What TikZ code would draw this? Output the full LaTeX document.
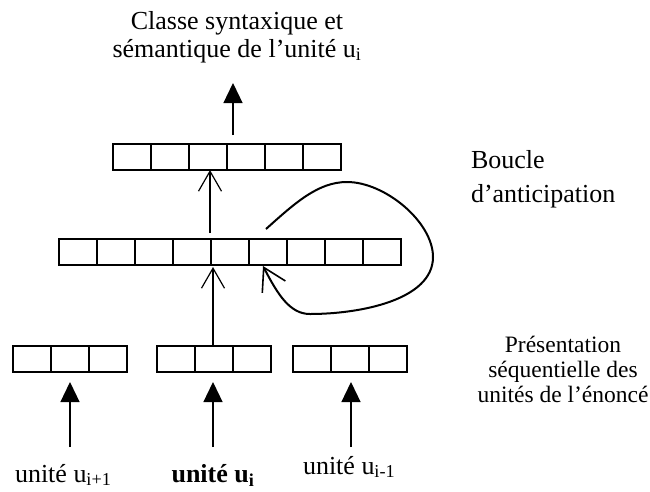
\documentclass[tikz,border=0pt]{standalone}
\usepackage{fontspec}
\setmainfont{Liberation Serif}
\usetikzlibrary{arrows.meta}
\begin{document}
\begin{tikzpicture}[x=1pt,y=-1pt,
  cell/.style={draw, line width=1.3pt, minimum width=38pt, minimum height=26pt, inner sep=0pt, outer sep=0pt},
  txt/.style={inner sep=0pt, outer sep=0pt},
  fillarrow/.style={line width=1.3pt, -{Triangle[length=20pt,width=19pt]}},
  openarrow/.style={line width=1.2pt, -{Straight Barb[length=20pt,width=23pt,line width=1.2pt]}},
  looparrow/.style={line width=2pt, -{Straight Barb[length=22pt,width=26pt,line width=1.6pt]}},
]
\useasboundingbox (0,0) rectangle (650,491);
% bars
\foreach \i in {1,...,6} \node[cell] (t\i) at (113+\i*38-19,157) {};
\foreach \i in {1,...,9} \node[cell] (m\i) at (59+\i*38-19,252) {};
\foreach \i in {1,...,3} {
  \node[cell] (a\i) at (13+\i*38-19,359) {};
  \node[cell] (b\i) at (157+\i*38-19,359) {};
  \node[cell] (c\i) at (293+\i*38-19,359) {};
}
% texts (anchor=base of a multi-line node is the baseline of its last line)
\node[txt, align=center, anchor=base, font=\fontsize{26}{28}\selectfont] (title) at (237,57)
  {Classe syntaxique et\\sémantique de l’unité u\textsubscript{i}};
\node[txt, align=left, anchor=base west, font=\fontsize{26}{34}\selectfont] (boucle) at (471,202)
  {Boucle\\d’anticipation};
\node[txt, align=center, anchor=base, font=\fontsize{23.5}{25}\selectfont] (pres) at (563,402)
  {Présentation\\séquentielle des\\unités de l’énoncé};
\node[txt, anchor=base west, font=\fontsize{26}{26}\selectfont] (l1) at (15,482) {unité u\textsubscript{i+1}};
\node[txt, anchor=base, font=\fontsize{26}{26}\selectfont] (l2) at (213,482) {\textbf{unité u\textsubscript{i}}};
\node[txt, anchor=base west, font=\fontsize{26}{26}\selectfont] (l3) at (303,474) {unité u\textsubscript{i-1}};
% arrow end points
\coordinate (topS) at (233,135);
\coordinate (topE) at (233,83);
\coordinate (tmS) at (210,233);
\coordinate (tmE) at (210,170);
\coordinate (mbS) at (213,346);
\coordinate (mbE) at (213,267);
\coordinate (a0) at (70,447);
\coordinate (aE) at (70,382);
\coordinate (b0) at (213,447);
\coordinate (bE) at (213,382);
\coordinate (c0) at (351,447);
\coordinate (cE) at (351,382);
\coordinate (L0) at (266,229);
\coordinate (L1) at (347,182);
\coordinate (L2) at (433,257);
\coordinate (L3) at (310,314);
\coordinate (LE) at (263,266);
% arrows
\draw[fillarrow] (topS) -- (topE);
\draw[openarrow] (tmS) -- (tmE);
\draw[openarrow] (mbS) -- (mbE);
\draw[fillarrow] (a0) -- (aE);
\draw[fillarrow] (b0) -- (bE);
\draw[fillarrow] (c0) -- (cE);
\draw[looparrow] (L0) .. controls (295,203) and (318,182) .. (L1)
  .. controls (385,182) and (433,222) .. (L2)
  .. controls (433,300) and (360,314) .. (L3)
  .. controls (290,314) and (278,295) .. (LE);
\end{tikzpicture}
\end{document}
